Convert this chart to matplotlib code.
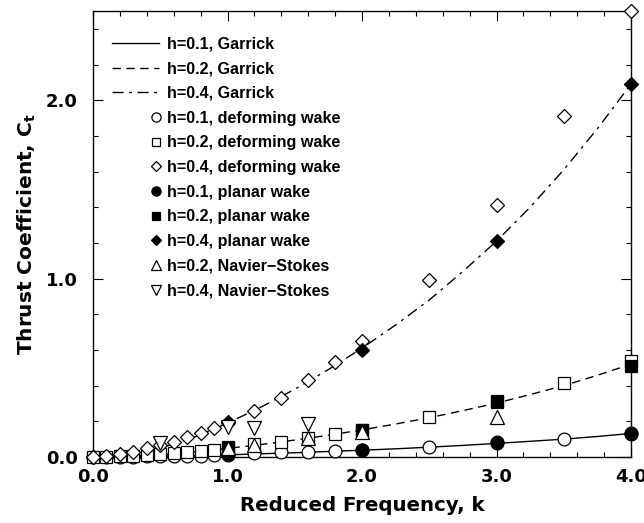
import matplotlib
matplotlib.use("Agg")
import numpy as np
import matplotlib.pyplot as plt
from matplotlib.legend_handler import HandlerLine2D
from matplotlib.ticker import MultipleLocator, FormatStrFormatter

plt.rcParams['font.family'] = ['Liberation Sans', 'DejaVu Sans']
plt.rcParams['font.weight'] = 'bold'
plt.rcParams['mathtext.fontset'] = 'dejavusans'

# ---- data ----
k_garrick = [0, 0.25, 0.5, 0.75, 1.0, 1.25, 1.5, 1.75, 2.0, 2.25, 2.5, 2.75, 3.0, 3.25, 3.5, 3.75, 4.0]
garrick_h01 = [0, 0.001, 0.003, 0.007, 0.012, 0.018, 0.024, 0.031, 0.038, 0.046, 0.055, 0.065, 0.076, 0.088, 0.100, 0.115, 0.132]
garrick_h02 = [0, 0.004, 0.013, 0.028, 0.048, 0.070, 0.095, 0.122, 0.152, 0.185, 0.220, 0.260, 0.302, 0.350, 0.400, 0.458, 0.520]
garrick_h04 = [0, 0.015, 0.050, 0.110, 0.190, 0.280, 0.380, 0.490, 0.610, 0.740, 0.880, 1.040, 1.210, 1.400, 1.610, 1.840, 2.090]

k_deform = [0, 0.1, 0.2, 0.3, 0.4, 0.5, 0.6, 0.7, 0.8, 0.9, 1.0, 1.2, 1.4, 1.6, 1.8, 2.0, 2.5, 3.0, 3.5, 4.0]
deform_h01 = [0, 0.0005, 0.001, 0.002, 0.003, 0.004, 0.005, 0.006, 0.008, 0.010, 0.013, 0.020, 0.026, 0.029, 0.035, 0.040, 0.058, 0.082, 0.100, 0.135]
deform_h02 = [0, 0.002, 0.004, 0.007, 0.012, 0.017, 0.022, 0.028, 0.034, 0.041, 0.052, 0.072, 0.082, 0.105, 0.128, 0.152, 0.225, 0.315, 0.415, 0.540]
deform_h04 = [0, 0.005, 0.018, 0.028, 0.048, 0.070, 0.086, 0.113, 0.136, 0.164, 0.190, 0.260, 0.330, 0.430, 0.530, 0.650, 0.990, 1.410, 1.910, 2.500]

k_planar = [1.0, 2.0, 3.0, 4.0]
planar_h01 = [0.015, 0.037, 0.080, 0.130]
planar_h02 = [0.056, 0.150, 0.310, 0.510]
planar_h04 = [0.195, 0.600, 1.210, 2.090]

k_ns_h02 = [1.0, 1.2, 1.6, 2.0, 3.0]
ns_h02 = [0.050, 0.065, 0.105, 0.140, 0.225]
k_ns_h04 = [0.5, 1.0, 1.2, 1.6]
ns_h04 = [0.076, 0.170, 0.165, 0.187]

labels = ["h=0.1, Garrick", "h=0.2, Garrick", "h=0.4, Garrick",
          "h=0.1, deforming wake", "h=0.2, deforming wake", "h=0.4, deforming wake",
          "h=0.1, planar wake", "h=0.2, planar wake", "h=0.4, planar wake",
          "h=0.2, Navier\u2212Stokes", "h=0.4, Navier\u2212Stokes"]

# ---- figure ----
fig = plt.figure(figsize=(6.44, 5.23), dpi=100)
ax = fig.add_axes([93 / 644, 1 - 457 / 523, 538 / 644, 446 / 523])

lw = 1.0
l1, = ax.plot(k_garrick, garrick_h01, color='k', lw=lw, ls='-', zorder=2)
l2, = ax.plot(k_garrick, garrick_h02, color='k', lw=lw, ls=(0, (6, 4)), zorder=2)
l3, = ax.plot(k_garrick, garrick_h04, color='k', lw=lw, ls=(0, (8, 4, 2, 4)), zorder=2)

ms = 9.2
mew = 0.9
common = dict(ls='none', mec='k', mew=mew, clip_on=False)
d1, = ax.plot(k_deform, deform_h01, marker='o', ms=ms, mfc='w', zorder=3, **common)
d2, = ax.plot(k_deform, deform_h02, marker='s', ms=ms * 0.95, mfc='w', zorder=3, **common)
d3, = ax.plot(k_deform, deform_h04, marker='D', ms=ms * 0.72, mfc='w', zorder=3, **common)
p1, = ax.plot(k_planar, planar_h01, marker='o', ms=ms, mfc='k', zorder=4, **common)
p2, = ax.plot(k_planar, planar_h02, marker='s', ms=ms * 0.95, mfc='k', zorder=4, **common)
p3, = ax.plot(k_planar, planar_h04, marker='D', ms=ms * 0.72, mfc='k', zorder=4, **common)
n2, = ax.plot(k_ns_h02, ns_h02, marker='^', ms=ms * 1.05, mfc='w', zorder=5, **common)
n4, = ax.plot(k_ns_h04, ns_h04, marker='v', ms=ms * 1.05, mfc='w', zorder=5, **common)

ax.set_xlim(0, 4)
ax.set_ylim(0, 2.5)
ax.xaxis.set_major_locator(MultipleLocator(1.0))
ax.xaxis.set_minor_locator(MultipleLocator(0.2))
ax.yaxis.set_major_locator(MultipleLocator(1.0))
ax.yaxis.set_minor_locator(MultipleLocator(0.2))
ax.xaxis.set_major_formatter(FormatStrFormatter('%.1f'))
ax.yaxis.set_major_formatter(FormatStrFormatter('%.1f'))
ax.tick_params(which='both', direction='in', top=True, right=True, width=0.8)
ax.tick_params(which='major', length=7)
ax.tick_params(which='minor', length=3.6)
ax.tick_params(axis='x', which='major', pad=8)
ax.tick_params(axis='y', which='major', pad=11)
for lab in ax.get_xticklabels() + ax.get_yticklabels():
    lab.set_family('DejaVu Sans')
    lab.set_fontsize(13)
    lab.set_fontweight('bold')
for s in ax.spines.values():
    s.set_linewidth(1.0)

ax.set_xlabel("Reduced Frequency, k", fontsize=14.2, fontweight='bold',
              family='DejaVu Sans', labelpad=7)
ax.set_ylabel(r"Thrust Coefficient, C$_{\mathbf{t}}$", fontsize=14.5, fontweight='bold',
              family='DejaVu Sans', labelpad=6)


class RightMarkerHandler(HandlerLine2D):
    def get_xdata(self, legend, xdescent, ydescent, width, height, fontsize):
        xm = -xdescent + width * 0.94
        return [xm - 1.0, xm + 1.0], [xm]


handles = [l1, l2, l3, d1, d2, d3, p1, p2, p3, n2, n4]
hmap = {h: RightMarkerHandler(numpoints=1) for h in handles[3:]}
leg = ax.legend(handles, labels, loc='upper left', bbox_to_anchor=(0.035, 0.9425),
                frameon=False, handlelength=2.9, handletextpad=0.55,
                labelspacing=0.6, borderpad=0, borderaxespad=0, markerscale=0.72,
                handler_map=hmap, prop={'weight': 'bold', 'size': 11.6})

fig.savefig("out.png", dpi=100)
